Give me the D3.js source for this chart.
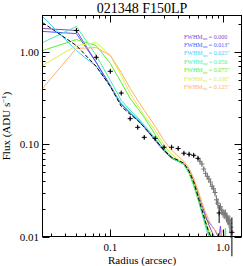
<!DOCTYPE html>
<html>
<head>
<meta charset="utf-8">
<script src="https://cdnjs.cloudflare.com/ajax/libs/d3/7.8.5/d3.min.js"></script>
<style>
body { margin: 0; background: #fff; }
text { font-family: "Liberation Serif", "Times New Roman", serif; }
</style>
</head>
<body>
<svg width="243" height="266"></svg>
<script>
// measured profile (radius in arcsec, flux in ADU/s)
var dataR = [0.05, 0.075, 0.1, 0.125, 0.15, 0.175, 0.2,
	0.25, 0.3, 0.35, 0.4, 0.45, 0.5, 0.55, 0.6,
	0.625, 0.65, 0.675, 0.7, 0.725, 0.75, 0.775, 0.8, 0.825, 0.85, 0.875, 0.9,
	0.925, 0.95, 0.975, 1.0, 1.025, 1.05, 1.075, 1.1, 1.125, 1.15, 1.175, 1.2];
var dataF = [1.72, 0.88, 0.62, 0.36, 0.19, 0.153, 0.119,
	0.116, 0.093, 0.093, 0.090, 0.080, 0.078, 0.076, 0.0705,
	0.0655, 0.061, 0.054, 0.0485, 0.045, 0.042, 0.039, 0.035, 0.033, 0.030, 0.025, 0.023,
	0.018, 0.021, 0.019, 0.018, 0.0174, 0.0178, 0.0162, 0.0154, 0.0150, 0.0139, 0.0126, 0.0111];
var dataErr = [0.05, 0.03, 0.02, 0.012, 0.007, 0.005, 0.004,
	0.004, 0.003, 0.003, 0.003, 0.003, 0.003, 0.003, 0.003,
	0.0035, 0.0035, 0.0035, 0.0035, 0.0035, 0.0035, 0.0035, 0.003, 0.003, 0.003, 0.003, 0.003,
	0.004, 0.002, 0.002, 0.002, 0.002, 0.002, 0.002, 0.002, 0.002, 0.003, 0.003, 0.005];

// model profiles
var modelR = [0.025, 0.05, 0.075, 0.1, 0.125, 0.15, 0.175, 0.2, 0.25, 0.3, 0.35, 0.4, 0.45,
	0.5, 0.55, 0.6, 0.65, 0.7, 0.75, 0.8, 0.85, 0.9, 0.95, 1.0, 1.05, 1.1];
var psf = [2.10, 1.18, 0.70, 0.425, 0.258, 0.211, 0.182, 0.153, 0.113, 0.0861, 0.0723, 0.0671, 0.0623,
	0.051, 0.0388, 0.0274, 0.0196, 0.0143, 0.0111, 0.0092, 0.007, 0.006, 0.005, 0.005, 0.004, 0.004];
var sm000 = [1.81, 1.72, 0.773, 0.436, 0.271, 0.217, 0.182, 0.153, 0.110, 0.084, 0.0705, 0.0655, 0.0623,
	0.0523, 0.0407, 0.0295, 0.0218, 0.017, 0.0133, 0.0111, 0.0097, 0.008, 0.013, 0.006, 0.005, 0.004];
var sm013 = [1.68, 1.59, 0.773, 0.425, 0.271, 0.222, 0.187, 0.157, 0.113, 0.0861, 0.0723, 0.0655, 0.0607,
	0.0497, 0.0378, 0.0274, 0.0208, 0.0158, 0.0143, 0.0129, 0.0117, 0.0101, 0.008, 0.006, 0.005, 0.004];
var sm025 = [2.44, 1.04, 0.70, 0.425, 0.278, 0.222, 0.187, 0.157, 0.113, 0.0861, 0.0723, 0.0655, 0.0607,
	0.0485, 0.036, 0.0254, 0.0179, 0.0129, 0.0099, 0.007, 0.006, 0.005, 0.004, 0.004, 0.004, 0.004];
var sm050 = [1.27, 1.90, 0.921, 0.494, 0.300, 0.234, 0.196, 0.161, 0.116, 0.0861, 0.0723, 0.0655, 0.0607,
	0.0485, 0.036, 0.0254, 0.0183, 0.0133, 0.0103, 0.009, 0.007, 0.006, 0.005, 0.006, 0.0123, 0.005];
var sm075 = [1.04, 1.37, 1.18, 0.754, 0.469, 0.315, 0.245, 0.196, 0.128, 0.0905, 0.0723, 0.0671, 0.0607,
	0.0497, 0.0369, 0.026, 0.0188, 0.0139, 0.0111, 0.0097, 0.007, 0.006, 0.005, 0.005, 0.004, 0.004];
var sm100 = [0.718, 1.18, 1.27, 0.921, 0.559, 0.357, 0.265, 0.206, 0.142, 0.0975, 0.0779, 0.0688, 0.0623,
	0.051, 0.0388, 0.028, 0.0203, 0.015, 0.0117, 0.0101, 0.0092, 0.007, 0.006, 0.005, 0.004, 0.004];
var sm125 = [0.404, 1.10, 1.12, 0.921, 0.603, 0.404, 0.300, 0.234, 0.157, 0.110, 0.0861, 0.0741, 0.0655,
	0.055, 0.0428, 0.0317, 0.0235, 0.0183, 0.015, 0.0129, 0.0117, 0.0106, 0.0101, 0.0117, 0.0092, 0.007];

var fwhmLabels = ["0.000", "0.013\u2033", "0.025\u2033", "0.050", "0.075\u2033", "0.100\u2033", "0.125\u2033"];
var modelColors = ["#8c44c8", "#4a5cff", "#44ccff", "#3cf0a8", "#58f028", "#d8f040", "#ffb060"];
var models = [sm000, sm013, sm025, sm050, sm075, sm100, sm125];

var yTickLabels = ["0.01", "0.10", "1.00"];
var xTickLabels = ["0.1", "1.0"];

var svg = d3.select("svg"),
	L = 42.5, R = 241.5, T = 15.5, B = 236.5;

var x = d3.scaleLog().domain([0.025, 1.46]).range([L, R]);
var y = d3.scaleLog().domain([0.01, 2.5]).range([B, T]);

svg.append("defs").append("clipPath").attr("id", "clip")
	.append("rect")
	.attr("x", L).attr("y", T)
	.attr("width", R - L).attr("height", B - T);

var line = d3.line()
	.x(function(d) { return x(d[0]); })
	.y(function(d) { return y(d[1]); });

var lines = svg.append("g").attr("clip-path", "url(#clip)");

models.forEach(function(m, i) {
	lines.append("path")
		.attr("d", line(d3.zip(modelR, m)))
		.attr("fill", "none")
		.attr("stroke", modelColors[i])
		.attr("stroke-width", 1);
});

lines.append("path")
	.attr("d", line(d3.zip(modelR, psf)))
	.attr("fill", "none")
	.attr("stroke", "#000")
	.attr("stroke-width", 1)
	.attr("stroke-dasharray", "4,2");

// data points with error bars (not clipped, as in the original)
var pts = svg.append("g");
dataR.forEach(function(r, i) {
	var cx = x(r), cy = y(dataF[i]);
	var col = (r > 0.6 && dataErr[i] < 0.004) ? "#7a7a7a" : "#000";
	pts.append("line")
		.attr("x1", cx).attr("x2", cx)
		.attr("y1", y(dataF[i] + dataErr[i]))
		.attr("y2", y(Math.max(dataF[i] - dataErr[i], 0.001)))
		.attr("stroke", col).attr("stroke-width", 1);
	pts.append("path")
		.attr("d", "M" + (cx - 2.5) + "," + cy + "H" + (cx + 2.5) + "M" + cx + "," + (cy - 2.5) + "V" + (cy + 2.5))
		.attr("stroke", col).attr("stroke-width", 1);
});

// frame and ticks
var axes = svg.append("g").attr("stroke", "#000").attr("stroke-width", 1);
axes.append("rect")
	.attr("x", L).attr("y", T)
	.attr("width", R - L).attr("height", B - T)
	.attr("fill", "none");

function isMajor(v) {
	var l = Math.log10(v);
	return Math.abs(l - Math.round(l)) < 1e-6;
}

x.ticks().forEach(function(v) {
	var px = Math.round(x(v)) + 0.5, len = isMajor(v) ? 7 : 3;
	axes.append("line").attr("x1", px).attr("x2", px).attr("y1", B).attr("y2", B - len);
	axes.append("line").attr("x1", px).attr("x2", px).attr("y1", T).attr("y2", T + len);
});

y.ticks().forEach(function(v) {
	var py = Math.round(y(v)) + 0.5, len = isMajor(v) ? 7 : 3;
	axes.append("line").attr("x1", L).attr("x2", L + len).attr("y1", py).attr("y2", py);
	axes.append("line").attr("x1", R).attr("x2", R - len).attr("y1", py).attr("y2", py);
});

[0.01, 0.1, 1].forEach(function(v, i) {
	svg.append("text")
		.attr("x", 39).attr("y", y(v) + 4)
		.attr("text-anchor", "end")
		.attr("font-size", 11)
		.text(yTickLabels[i]);
});

[0.1, 1].forEach(function(v, i) {
	svg.append("text")
		.attr("x", x(v)).attr("y", 251)
		.attr("text-anchor", "middle")
		.attr("font-size", 11)
		.text(xTickLabels[i]);
});

svg.append("text")
	.attr("x", (L + R) / 2).attr("y", 13)
	.attr("text-anchor", "middle")
	.attr("font-size", 14)
	.text("021348 F150LP");

svg.append("text")
	.attr("x", (L + R) / 2).attr("y", 264)
	.attr("text-anchor", "middle")
	.attr("font-size", 11)
	.text("Radius (arcsec)");

var yt = svg.append("text")
	.attr("transform", "translate(10," + ((T + B) / 2) + ") rotate(-90)")
	.attr("text-anchor", "middle")
	.attr("font-size", 11);
yt.append("tspan").text("Flux (ADU s");
yt.append("tspan").attr("font-size", 7).attr("dy", -4).text("\u22121");
yt.append("tspan").attr("dy", 4).text(")");

// legend
fwhmLabels.forEach(function(lab, i) {
	var t = svg.append("text")
		.attr("x", 184).attr("y", 38.5 + i * 8.4)
		.attr("font-size", 6)
		.attr("fill", modelColors[i]);
	t.append("tspan").text("FWHM");
	t.append("tspan").attr("font-size", 4).attr("dy", 1.5).text("sm");
	t.append("tspan").attr("dy", -1.5).text(" = " + lab);
});
</script>
</body>
</html>
